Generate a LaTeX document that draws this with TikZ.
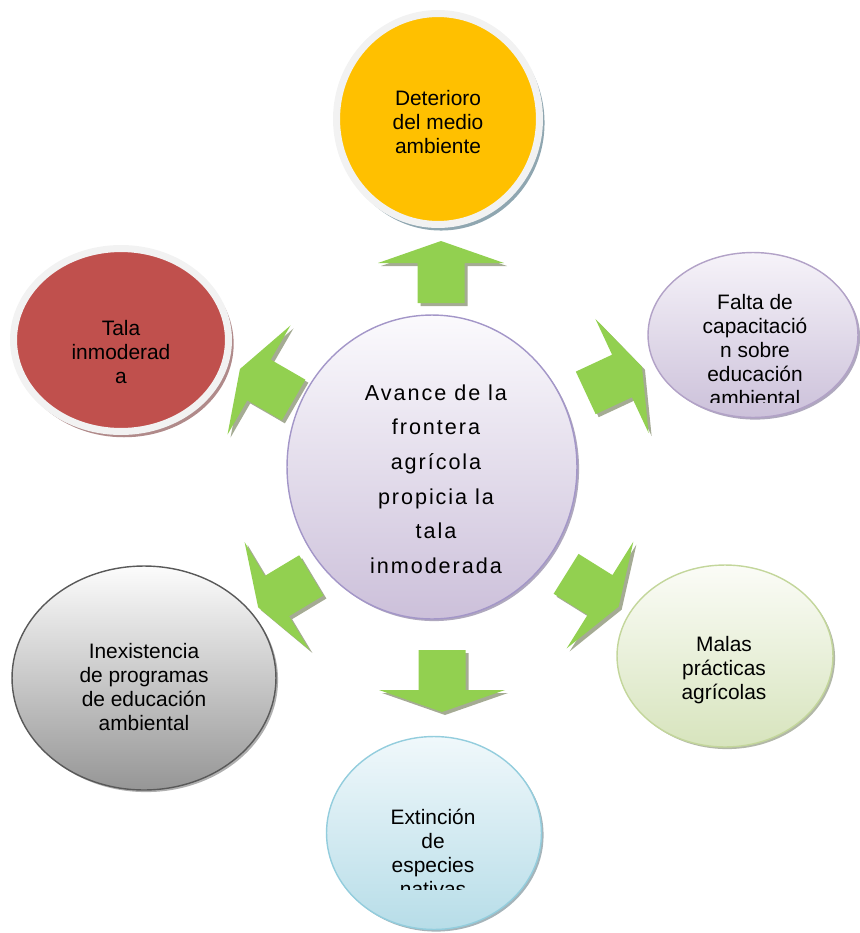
\documentclass[tikz,border=0pt]{standalone}
\usepackage{fontspec}
\setmainfont{Liberation Sans}
\newfontfamily\spacedfont{Liberation Sans}[LetterSpace=9]
\usetikzlibrary{shapes.geometric, shadows, calc}
\newcommand{\bubblefont}{\fontsize{11.9}{13.6}\selectfont}
\newcommand{\hubfont}{\spacedfont\fontsize{12.3}{19.7}\selectfont}

\begin{document}
\begin{tikzpicture}[x=0.02cm, y=-0.02cm, font=\bubblefont,
    bubble/.style n args={4}{ellipse, draw=#1, line width=0.8pt, top color=#2, bottom color=#3,
        drop shadow={shadow xshift=1.2pt, shadow yshift=-1.2pt, fill=#4, opacity=1}},
    ringed/.style 2 args={ellipse, draw=ringgrey, line width=4pt, fill=#1,
        drop shadow={shadow xshift=1.7pt, shadow yshift=-2.2pt, shadow scale=1.02, fill=#2, opacity=1}},
    txt/.style={align=center, inner sep=0pt},
    pics/blockarrow/.style={code={
        \fill[fill=#1] (22,0) -- (0,-63) -- (0,-23.5) -- (-40,-23.5) -- (-40,23.5) -- (0,23.5) -- (0,63) -- cycle;
    }}]
    % Define local colors
    \definecolor{ringgrey}{RGB}{242, 242, 242}
    \definecolor{detefill}{RGB}{255, 192, 0}   \definecolor{deteshade}{RGB}{143, 166, 176}
    \definecolor{talafill}{RGB}{192, 80, 77}   \definecolor{talashade}{RGB}{176, 138, 138}
    \definecolor{hubline}{RGB}{163, 150, 200}  \definecolor{hubtop}{RGB}{251, 250, 253}   \definecolor{hubbot}{RGB}{204, 192, 218}  \definecolor{hubshade}{RGB}{175, 168, 190}
    \definecolor{faltaline}{RGB}{178, 162, 199} \definecolor{faltatop}{RGB}{246, 243, 249} \definecolor{faltabot}{RGB}{204, 193, 218} \definecolor{faltashade}{RGB}{175, 168, 190}
    \definecolor{malasline}{RGB}{195, 214, 155} \definecolor{malastop}{RGB}{251, 252, 247} \definecolor{malasbot}{RGB}{215, 228, 189} \definecolor{malasshade}{RGB}{178, 184, 168}
    \definecolor{extline}{RGB}{147, 205, 221}   \definecolor{exttop}{RGB}{240, 248, 251}   \definecolor{extbot}{RGB}{183, 221, 232}  \definecolor{extshade}{RGB}{165, 180, 186}
    \definecolor{inexline}{RGB}{89, 89, 89}     \definecolor{inextop}{RGB}{252, 252, 252}  \definecolor{inexbot}{RGB}{150, 150, 150}  \definecolor{inexshade}{RGB}{175, 175, 175}
    \definecolor{arrowgreen}{RGB}{146, 208, 80} \definecolor{arrowshade}{RGB}{165, 171, 148}

    \useasboundingbox (0,0) rectangle (859,933);

    % HUB: central idea
    \node[bubble={hubline}{hubtop}{hubbot}{hubshade}, minimum width=5.8cm, minimum height=6.08cm] (avance) at (432,467) {};
    \node[txt, font=\hubfont] (avanceT) at (436,479) {Avance de la\\frontera\\agrícola\\propicia la\\tala\\inmoderada};

    % OUTER BUBBLES
    \node[ringed={detefill}{deteshade}, minimum width=4.06cm, minimum height=4.22cm] (deterioro) at (438,119) {};
    \node[ringed={talafill}{talashade}, minimum width=4.3cm, minimum height=3.66cm] (tala) at (121,340) {};
    \node[bubble={faltaline}{faltatop}{faltabot}{faltashade}, minimum width=4.2cm, minimum height=3.3cm] (falta) at (753,335) {};
    \node[bubble={malasline}{malastop}{malasbot}{malasshade}, minimum width=4.32cm, minimum height=3.64cm] (malas) at (725,656) {};
    \node[bubble={extline}{exttop}{extbot}{extshade}, minimum width=4.3cm, minimum height=3.86cm] (extincion) at (434,833) {};
    \node[bubble={inexline}{inextop}{inexbot}{inexshade}, minimum width=5.28cm, minimum height=4.48cm] (inexistencia) at (144,678) {};

    % Bubble texts (two of them are cut off at the bottom)
    \node[txt] (deterioroT) at (438,122) {Deterioro\\del medio\\ambiente};
    \node[txt] (talaT) at (121,352) {Tala\\inmoderad\\a};
    \begin{scope}
        \clip (600,250) rectangle (859,402);
        \node[txt] (faltaT) at (755,350) {Falta de\\capacitació\\n sobre\\educación\\ambiental};
    \end{scope}
    \node[txt] (malasT) at (724,670) {Malas\\prácticas\\agrícolas};
    \begin{scope}
        \clip (320,730) rectangle (550,889);
        \node[txt] (extincionT) at (433,853) {Extinción\\de\\especies\\nativas};
    \end{scope}
    \node[txt] (inexistenciaT) at (144,687) {Inexistencia\\de programas\\de educación\\ambiental};

    % Block arrows round the hub
    \foreach \ang/\dx/\dy in {90/9/-204, 25/190/-91, -32/168/128, -90/10/223, 211/-155/129, 150/-173/-87} {
        \pic[rotate=\ang] at ($(avance)+(\dx+3,\dy+3)$) {blockarrow=arrowshade};
        \pic[rotate=\ang] at ($(avance)+(\dx,\dy)$) {blockarrow=arrowgreen};
    }
\end{tikzpicture}
\end{document}
